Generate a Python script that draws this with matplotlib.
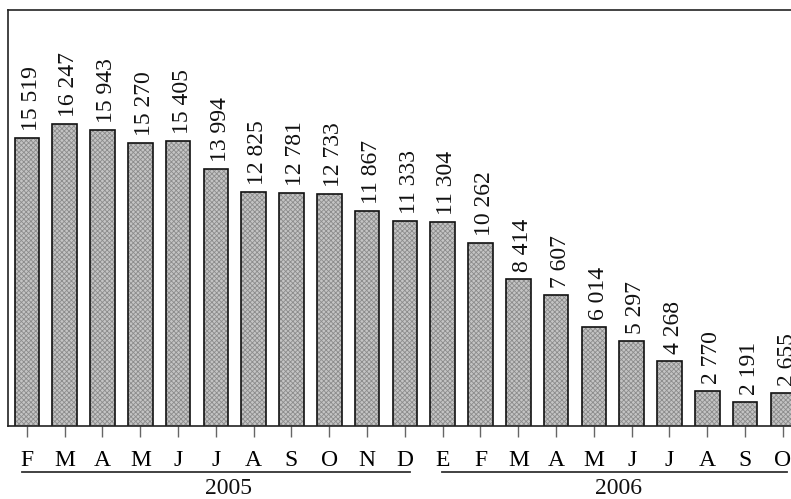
import matplotlib
matplotlib.use("Agg")
import matplotlib.pyplot as plt
import matplotlib.transforms as mtransforms
from matplotlib.lines import Line2D

plt.rcParams['font.family'] = ['Liberation Serif', 'DejaVu Serif']
plt.rcParams['hatch.linewidth'] = 0.6

months = ["F", "M", "A", "M", "J", "J", "A", "S", "O", "N", "D",
          "E", "F", "M", "A", "M", "J", "J", "A", "S", "O"]
values = [15519, 16247, 15943, 15270, 15405, 13994, 12825, 12781, 12733,
          11867, 11333, 11304, 10262, 8414, 7607, 6014, 5297, 4268,
          2770, 2191, 2655]
years = ["2005", "2006"]


def fmt(v):
    return f"{v:,}".replace(",", " ")


W, H = 791, 499
fig = plt.figure(figsize=(W / 100, H / 100), dpi=100)
ax_left, ax_bottom = 8 / W, (H - 426) / H
ax_w, ax_h = 21 * 37.8 / W, 416 / H
ax = fig.add_axes([ax_left, ax_bottom, ax_w, ax_h])

x = list(range(len(values)))
bars = ax.bar(x, values, width=0.65, bottom=0, color='#c4c4c4',
              edgecolor='#111111', linewidth=1.2, hatch='xxxxxxx')
for b in bars:
    b._hatch_color = matplotlib.colors.to_rgba('#8c8c8c')

for xi, v in zip(x, values):
    ax.annotate(fmt(v), xy=(xi, v), xytext=(3, 5), textcoords='offset points',
                rotation=90, ha='center', va='bottom', fontsize=17,
                color='#111111')

ax.set_xlim(-0.5, 20.5)
ax.set_ylim(1000, 22000)
ax.set_yticks([])
ax.set_xticks(x)
ax.set_xticklabels(months, fontsize=17)
ax.tick_params(axis='x', direction='out', length=8, width=1.0,
               color='#666666', pad=9)
for s in ax.spines.values():
    s.set_color('#222222')
    s.set_linewidth(1.2)

trans = mtransforms.blended_transform_factory(ax.transData, fig.transFigure)
line_y = (H - 471.7) / H
line_ext = [(-0.12, 10.13), (10.97, 20.1)]
label_x = [5.33, 15.66]
for (x0, x1), lx, yr in zip(line_ext, label_x, years):
    fig.add_artist(Line2D([x0, x1], [line_y, line_y], transform=trans,
                          color='#333333', linewidth=1.3))
    fig.text(lx, (H - 494.0) / H, yr, transform=trans, ha='center',
             va='baseline', fontsize=17, color='#111111')

fig.savefig("out.png", dpi=100)
